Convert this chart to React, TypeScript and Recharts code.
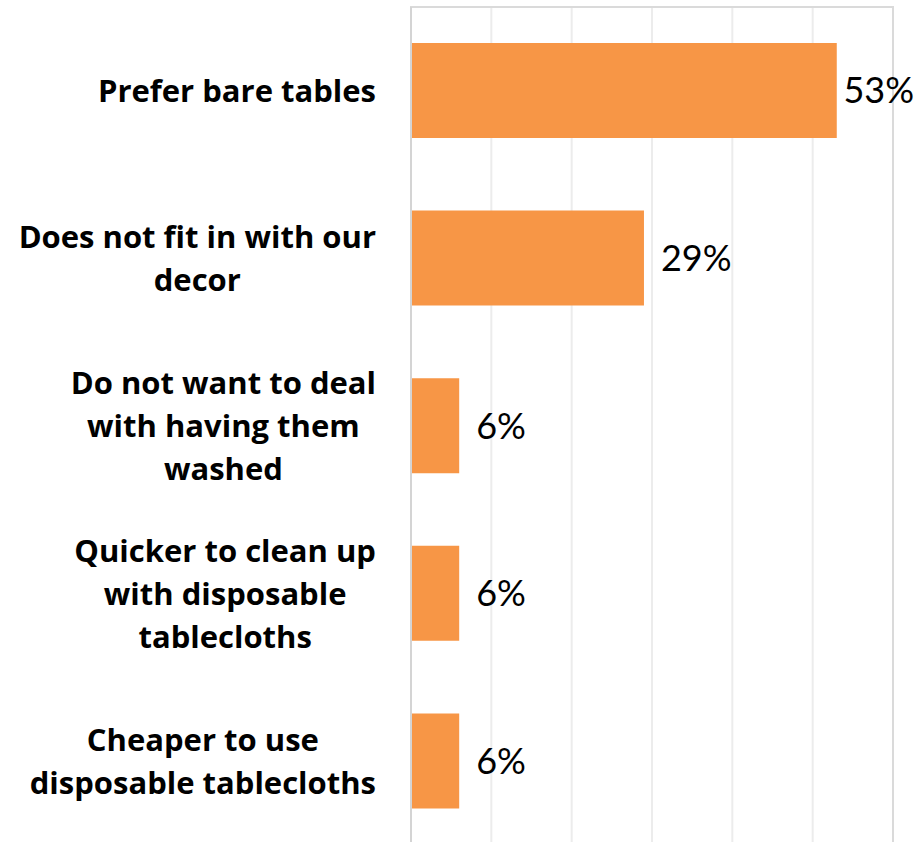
import { Bar, BarChart, CartesianGrid, LabelList, ReferenceArea, XAxis, YAxis } from "recharts";

const categories = [
  "Prefer bare tables",
  "Does not fit in with our decor",
  "Do not want to deal with having them washed",
  "Quicker to clean up with disposable tablecloths",
  "Cheaper to use disposable tablecloths",
];
const labelLines = [
  ["Prefer bare tables"],
  ["Does not fit in with our", "decor"],
  ["Do not want to deal", "with having them", "washed"],
  ["Quicker to clean up", "with disposable", "tablecloths"],
  ["Cheaper to use", "disposable tablecloths"],
];
const shares = [53, 29, 6, 6, 6];
const gridTicks = [0, 10, 20, 30, 40, 50, 60];

const data = categories.map((name, i) => ({ name, value: shares[i] }));

const TICK_FAMILY = "'Open Sans'";
const TICK_SIZE = 31;
const TICK_FONT = `bold ${TICK_SIZE}px ${TICK_FAMILY}`;
const VALUE_FAMILY = "Lato";
const VALUE_FONT = `36px ${VALUE_FAMILY}`;

let ctx: CanvasRenderingContext2D | null = null;
function measure(text: string, font: string) {
  if (!ctx) ctx = document.createElement("canvas").getContext("2d");
  if (!ctx) return text.length * 16;
  ctx.font = font;
  return ctx.measureText(text).width;
}

// multi-line label, lines centred inside a block that is right-aligned to the axis gap
function CategoryTick({ y, payload }: any) {
  const lines: string[] = labelLines[categories.indexOf(payload.value)] ?? [payload.value];
  const maxW = Math.max(...lines.map((l) => measure(l, TICK_FONT)));
  const cx = 376 - maxW / 2;
  const lh = 43;
  return (
    <g>
      {lines.map((l, i) => (
        <text
          key={i}
          x={cx}
          y={y + (i - (lines.length - 1) / 2) * lh}
          dy="0.36em"
          textAnchor="middle"
          fontFamily={TICK_FAMILY}
          fontWeight={700}
          fontSize={TICK_SIZE}
          fill="#000"
        >
          {l}
        </text>
      ))}
    </g>
  );
}

function ValueLabel({ x, y, width, height, value }: any) {
  const txt = `${value}%`;
  const w = measure(txt, VALUE_FONT);
  let tx = x + width + 17;
  if (tx + w > 914) tx = 914 - w;
  return (
    <text x={tx} y={y + height / 2} dy="0.36em" fontFamily={VALUE_FAMILY} fontSize={36} fill="#000">
      {txt}
    </text>
  );
}

export default function App() {
  return (
    <div style={{ position: "fixed", left: 0, top: 0, width: 921, height: 842, overflow: "hidden", background: "#fff" }}>
      <BarChart
        width={921}
        height={850}
        data={data}
        layout="vertical"
        margin={{ top: 7, right: 28, bottom: 5, left: 0 }}
      >
        <CartesianGrid horizontal={false} stroke="#ececec" strokeWidth={2} />
        <XAxis type="number" domain={[0, 60]} ticks={gridTicks} hide />
        <YAxis
          type="category"
          dataKey="name"
          width={411}
          tickLine={false}
          axisLine={{ stroke: "#d4d4d4", strokeWidth: 2 }}
          tick={<CategoryTick />}
          interval={0}
        />
        <ReferenceArea x1={0} x2={60} fill="none" stroke="#dadada" strokeWidth={2} ifOverflow="visible" />
        <Bar dataKey="value" fill="#F79646" barSize={95} isAnimationActive={false}>
          <LabelList dataKey="value" content={<ValueLabel />} />
        </Bar>
      </BarChart>
    </div>
  );
}
